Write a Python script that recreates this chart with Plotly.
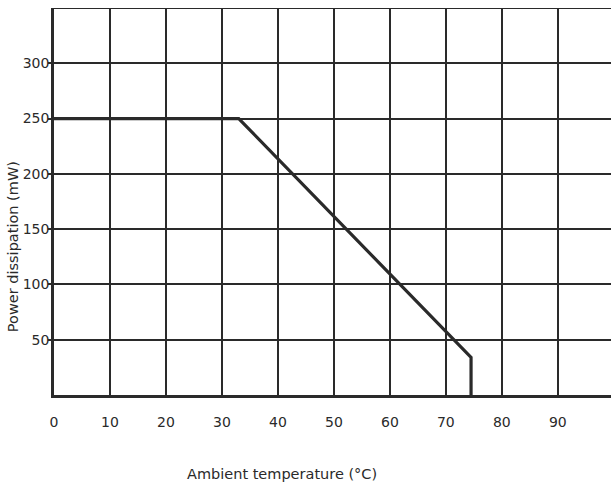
import plotly.graph_objects as go

# Derating curve: ambient temperature (°C) vs. maximum power dissipation (mW)
temperature = [0, 33, 74.5, 74.5]
power = [250, 250, 34, 0]

x_ticks = [0, 10, 20, 30, 40, 50, 60, 70, 80, 90]
y_ticks = [50, 100, 150, 200, 250, 300]

ink = "#2a2a2a"
font = dict(family="DejaVu Sans, Verdana, sans-serif", size=14, color=ink)

fig = go.Figure()
fig.add_trace(go.Scatter(
    x=temperature, y=power, mode="lines",
    line=dict(color=ink, width=3.2),
    hoverinfo="skip", showlegend=False,
))

fig.update_layout(
    width=611, height=488,
    margin=dict(l=54, r=0, t=8, b=93),
    paper_bgcolor="white", plot_bgcolor="white",
    font=font,
    xaxis=dict(
        range=[0, 99.5], tickvals=x_ticks, ticktext=[str(v) for v in x_ticks],
        showgrid=True, gridcolor=ink, gridwidth=1.6,
        showline=True, linecolor=ink, linewidth=2.6,
        zeroline=False, ticks="", ticklabelstandoff=12,
        fixedrange=True,
    ),
    yaxis=dict(
        range=[0, 350], tickvals=y_ticks, ticktext=[str(v) for v in y_ticks],
        showgrid=True, gridcolor=ink, gridwidth=1.6,
        showline=True, linecolor=ink, linewidth=2.6,
        zeroline=False, ticks="outside", ticklen=3, tickcolor=ink, tickwidth=1.6,
        ticklabelstandoff=-4,
        fixedrange=True,
    ),
    shapes=[
        dict(type="line", xref="paper", yref="y", x0=0, x1=1, y0=350, y1=350,
             line=dict(color=ink, width=2)),
    ],
    annotations=[
        dict(text="Power dissipation (mW)", xref="paper", yref="paper",
             x=-0.0736, y=0.382, textangle=-90, showarrow=False,
             xanchor="center", yanchor="middle",
             font=dict(family=font["family"], size=14.5, color=ink)),
        dict(text="Ambient temperature (°C)", xref="paper", yref="paper",
             x=0.409, y=-0.204, showarrow=False,
             xanchor="center", yanchor="middle",
             font=dict(family=font["family"], size=14.5, color=ink)),
    ],
)

fig.write_html("out.html")
